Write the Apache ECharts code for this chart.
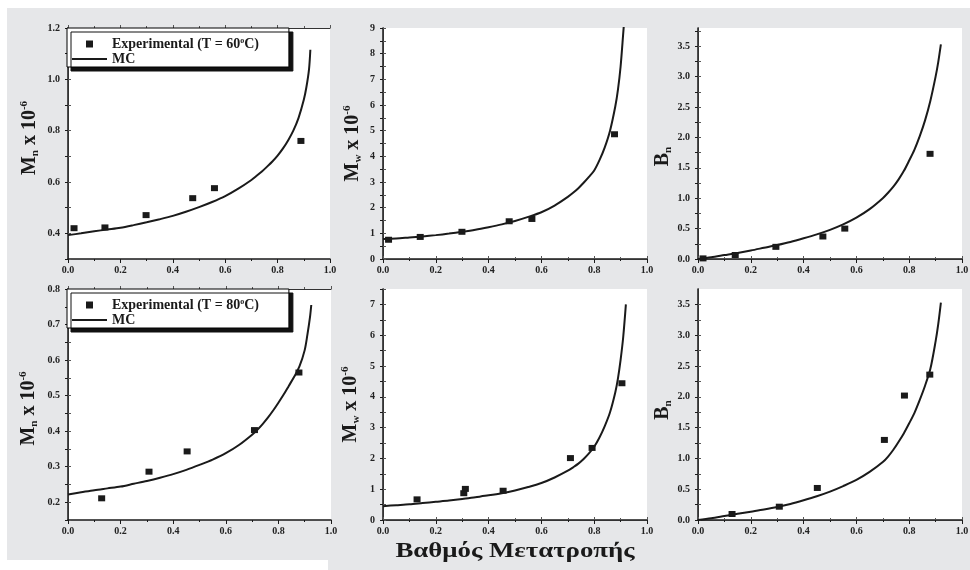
<!DOCTYPE html>
<html>
<head>
<meta charset="utf-8">
<script src="https://cdn.jsdelivr.net/npm/echarts@6/dist/echarts.min.js"></script>
<style>
  html, body { margin: 0; padding: 0; background: #fff; }
  #chart { width: 970px; height: 570px; }
</style>
</head>
<body>
<div id="chart"></div>
<script>
// ---------- data ----------
// Experimental points, T = 60 °C
const exp60MnX = [0.023, 0.141, 0.298, 0.476, 0.559, 0.889];
const exp60Mn  = [0.420, 0.423, 0.471, 0.537, 0.576, 0.760];
const exp60MwX = [0.021, 0.141, 0.299, 0.478, 0.564, 0.877];
const exp60Mw  = [0.75, 0.86, 1.06, 1.47, 1.56, 4.86];
const exp60BnX = [0.019, 0.141, 0.295, 0.473, 0.556, 0.879];
const exp60Bn  = [0.01, 0.066, 0.20, 0.37, 0.50, 1.73];

// Experimental points, T = 80 °C
const exp80MnX = [0.128, 0.308, 0.453, 0.709, 0.878];
const exp80Mn  = [0.211, 0.286, 0.343, 0.403, 0.565];
const exp80MwX = [0.129, 0.306, 0.312, 0.455, 0.710, 0.792, 0.905];
const exp80Mw  = [0.67, 0.87, 1.01, 0.95, 2.01, 2.34, 4.44];
const exp80BnX = [0.129, 0.308, 0.452, 0.706, 0.782, 0.878];
const exp80Bn  = [0.097, 0.216, 0.52, 1.30, 2.02, 2.36];

// Monte Carlo curves (conversion grid shared by most curves)
const mcX = [0, 0.05, 0.1, 0.15, 0.2, 0.25, 0.3, 0.35, 0.4, 0.45, 0.5, 0.55, 0.6, 0.65, 0.7,
             0.72, 0.74, 0.76, 0.78, 0.8, 0.82, 0.84, 0.86, 0.88, 0.9, 0.91, 0.92];
const mc60MnX = mcX.concat([0.925]);
const mc60Mn  = [0.393, 0.400, 0.408, 0.415, 0.422, 0.432, 0.443, 0.455, 0.468, 0.484, 0.502, 0.522, 0.545, 0.574, 0.608,
                 0.624, 0.641, 0.660, 0.680, 0.703, 0.730, 0.762, 0.800, 0.850, 0.920, 0.970, 1.040, 1.115];
const mc60MwX = [0, 0.05, 0.1, 0.15, 0.2, 0.25, 0.3, 0.35, 0.4, 0.45, 0.5, 0.55, 0.6, 0.65, 0.7,
                 0.72, 0.74, 0.76, 0.78, 0.8, 0.82, 0.84, 0.86, 0.88, 0.89, 0.9, 0.91, 0.916];
const mc60Mw  = [0.78, 0.80, 0.84, 0.88, 0.93, 0.99, 1.06, 1.14, 1.24, 1.35, 1.48, 1.64, 1.82, 2.08, 2.42,
                 2.58, 2.76, 2.97, 3.20, 3.45, 3.85, 4.35, 5.00, 5.95, 6.60, 7.50, 8.80, 9.60];
const mc60Bn  = [0.0, 0.03, 0.065, 0.10, 0.14, 0.185, 0.23, 0.28, 0.34, 0.405, 0.48, 0.57, 0.68, 0.82, 1.00,
                 1.09, 1.19, 1.31, 1.45, 1.62, 1.80, 2.02, 2.28, 2.60, 3.00, 3.24, 3.53];

const mc80MnX = mcX.concat([0.925]);
const mc80Mn  = [0.222, 0.228, 0.234, 0.239, 0.244, 0.252, 0.260, 0.269, 0.279, 0.291, 0.305, 0.320, 0.338, 0.361, 0.390,
                 0.404, 0.420, 0.438, 0.458, 0.480, 0.503, 0.528, 0.553, 0.582, 0.628, 0.670, 0.720, 0.755];
const mc80MwX = [0, 0.05, 0.1, 0.15, 0.2, 0.25, 0.3, 0.35, 0.4, 0.45, 0.5, 0.55, 0.6, 0.65, 0.7,
                 0.72, 0.74, 0.76, 0.78, 0.8, 0.82, 0.84, 0.86, 0.88, 0.89, 0.9, 0.91, 0.92];
const mc80Mw  = [0.45, 0.48, 0.51, 0.55, 0.59, 0.63, 0.68, 0.74, 0.80, 0.87, 0.96, 1.07, 1.20, 1.38, 1.60,
                 1.71, 1.83, 1.98, 2.16, 2.38, 2.68, 3.05, 3.50, 4.15, 4.60, 5.20, 5.95, 7.00];
const mc80Bn  = [0.0, 0.03, 0.065, 0.10, 0.135, 0.17, 0.21, 0.26, 0.32, 0.385, 0.46, 0.55, 0.65, 0.78, 0.94,
                 1.03, 1.14, 1.27, 1.41, 1.57, 1.74, 1.95, 2.18, 2.45, 2.90, 3.18, 3.53];

// Axis tick labels and tick marks
const xLabels   = [0, 0.2, 0.4, 0.6, 0.8, 1.0];
const mn60Labels = [0.4, 0.6, 0.8, 1.0, 1.2];
const mn60Ticks  = [0.3, 0.4, 0.5, 0.6, 0.7, 0.8, 0.9, 1.0, 1.1, 1.2];
const mw60Labels = [0, 1, 2, 3, 4, 5, 6, 7, 8, 9];
const mw60Ticks  = [0, 0.5, 1, 1.5, 2, 2.5, 3, 3.5, 4, 4.5, 5, 5.5, 6, 6.5, 7, 7.5, 8, 8.5, 9];
const bn60Labels = [0, 0.5, 1.0, 1.5, 2.0, 2.5, 3.0, 3.5];
const bn60Ticks  = [0, 0.25, 0.5, 0.75, 1.0, 1.25, 1.5, 1.75, 2.0, 2.25, 2.5, 2.75, 3.0, 3.25, 3.5, 3.75];
const mn80Labels = [0.2, 0.3, 0.4, 0.5, 0.6, 0.7, 0.8];
const mn80Ticks  = [0.15, 0.2, 0.25, 0.3, 0.35, 0.4, 0.45, 0.5, 0.55, 0.6, 0.65, 0.7, 0.75, 0.8];
const mw80Labels = [0, 1, 2, 3, 4, 5, 6, 7];
const mw80Ticks  = [0, 0.5, 1, 1.5, 2, 2.5, 3, 3.5, 4, 4.5, 5, 5.5, 6, 6.5, 7, 7.5];
const bn80Labels = [0, 0.5, 1.0, 1.5, 2.0, 2.5, 3.0, 3.5];
const bn80Ticks  = [0, 0.25, 0.5, 0.75, 1.0, 1.25, 1.5, 1.75, 2.0, 2.25, 2.5, 2.75, 3.0, 3.25, 3.5];

const seriesName60 = 'Experimental (T = 60°C)';
const seriesName80 = 'Experimental (T = 80°C)';
const mcName = 'MC';
const xTitle = 'Βαθμός Μετατροπής';

// ---------- styling ----------
const FONT = '"Liberation Serif", "Times New Roman", "DejaVu Serif", serif';
const INK = '#1a1a1a';
const PANEL_BG = '#e6e7e9';

const nameRich = {
  m: { fontFamily: FONT, fontWeight: 'bold', fontSize: 20, lineHeight: 22, color: INK },
  s: { fontFamily: FONT, fontWeight: 'bold', fontSize: 11, lineHeight: 11, verticalAlign: 'bottom', color: INK },
  p: { fontFamily: FONT, fontWeight: 'bold', fontSize: 11, lineHeight: 11, verticalAlign: 'top', color: INK }
};
const MN_NAME = '{m|M}{s|n}{m| x 10}{p|-6}';
const MW_NAME = '{m|M}{s|w}{m| x 10}{p|-6}';
const BN_NAME = '{m|B}{s|n}';

const panels = [
  { rect: [68, 28, 262, 231],  yMin: 0.3,  yMax: 1.2,  labels: mn60Labels, ticks: mn60Ticks, digits: 1, name: MN_NAME, gap: 27, pad: [0, 0, 0, 11],
    expX: exp60MnX, expY: exp60Mn, mcX: mc60MnX, mcY: mc60Mn, expName: seriesName60 },
  { rect: [383, 28, 264, 231], yMin: 0,    yMax: 9,    labels: mw60Labels, ticks: mw60Ticks, digits: 0, name: MW_NAME, gap: 19, pad: [0, 0, 0, 0],
    expX: exp60MwX, expY: exp60Mw, mcX: mc60MwX, mcY: mc60Mw, expName: seriesName60 },
  { rect: [698, 28, 264, 231], yMin: 0,    yMax: 3.8,  labels: bn60Labels, ticks: bn60Ticks, digits: 1, name: BN_NAME, gap: 23, pad: [0, 26, 0, 0],
    expX: exp60BnX, expY: exp60Bn, mcX: mcX, mcY: mc60Bn, expName: seriesName60 },
  { rect: [68, 289, 263, 231], yMin: 0.15, yMax: 0.8,  labels: mn80Labels, ticks: mn80Ticks, digits: 1, name: MN_NAME, gap: 28, pad: [0, 8, 0, 0],
    expX: exp80MnX, expY: exp80Mn, mcX: mc80MnX, mcY: mc80Mn, expName: seriesName80 },
  { rect: [383, 289, 264, 231], yMin: 0,   yMax: 7.5,  labels: mw80Labels, ticks: mw80Ticks, digits: 0, name: MW_NAME, gap: 21, pad: [0, 0, 0, 0],
    expX: exp80MwX, expY: exp80Mw, mcX: mc80MwX, mcY: mc80Mw, expName: seriesName80 },
  { rect: [698, 289, 264, 231], yMin: 0,   yMax: 3.75, labels: bn80Labels, ticks: bn80Ticks, digits: 1, name: BN_NAME, gap: 24, pad: [0, 11, 0, 0],
    expX: exp80BnX, expY: exp80Bn, mcX: mcX, mcY: mc80Bn, expName: seriesName80 }
];

const labelStyle = { fontFamily: FONT, fontWeight: 'bold', fontSize: 10, color: '#222' };
const zip = (xs, ys) => xs.map((x, i) => [x, ys[i]]);

const grid = [], xAxis = [], yAxis = [], series = [];
panels.forEach((p, i) => {
  const [l, t, w, h] = p.rect;
  grid.push({ left: l, top: t, width: w, height: h, show: true, backgroundColor: '#fff', borderWidth: 0, outerBoundsMode: 'none' });
  // bottom axis with labels, top axis as a mirrored frame edge
  xAxis.push({
    type: 'value', gridIndex: i, position: 'bottom', min: 0, max: 1, interval: 0.2,
    axisLine: { lineStyle: { color: INK, width: 1.5 } },
    axisTick: { length: 4, lineStyle: { color: INK, width: 1 } },
    minorTick: { show: true, splitNumber: 2, length: 2, lineStyle: { color: INK, width: 1 } },
    axisLabel: Object.assign({ margin: 6, formatter: v => v.toFixed(1), customValues: xLabels }, labelStyle),
    splitLine: { show: false }
  });
  xAxis.push({
    type: 'value', gridIndex: i, position: 'top', min: 0, max: 1, interval: 0.2,
    axisLine: { lineStyle: { color: '#333', width: 1 } },
    axisTick: { length: 3, lineStyle: { color: '#555', width: 1 } },
    minorTick: { show: true, splitNumber: 2, length: 2, lineStyle: { color: '#555', width: 1 } },
    axisLabel: { show: false }, splitLine: { show: false }
  });
  yAxis.push({
    type: 'value', gridIndex: i, position: 'left', min: p.yMin, max: p.yMax,
    name: p.name, nameLocation: 'middle', nameGap: p.gap, nameRotate: 90,
    nameTextStyle: { fontFamily: FONT, fontWeight: 'bold', fontSize: 20, color: INK, rich: nameRich, padding: p.pad },
    axisLine: { lineStyle: { color: INK, width: 1.5 } },
    axisTick: { length: 3, customValues: p.ticks, lineStyle: { color: INK, width: 1 } },
    axisLabel: Object.assign({ margin: 8, customValues: p.labels, formatter: v => v.toFixed(p.digits) }, labelStyle),
    splitLine: { show: false }
  });
  yAxis.push({
    type: 'value', gridIndex: i, position: 'right', min: p.yMin, max: p.yMax,
    axisLine: { lineStyle: { color: '#333', width: 1 } },
    axisTick: { length: 3, customValues: p.ticks, lineStyle: { color: '#555', width: 1 } },
    axisLabel: { show: false }, splitLine: { show: false }
  });
  series.push({
    name: mcName, type: 'line', xAxisIndex: 2 * i, yAxisIndex: 2 * i,
    data: zip(p.mcX, p.mcY), symbol: 'none', smooth: 0.3, clip: true,
    lineStyle: { color: INK, width: 2 }, itemStyle: { color: INK }, z: 3
  });
  series.push({
    name: p.expName, type: 'scatter', xAxisIndex: 2 * i, yAxisIndex: 2 * i,
    data: zip(p.expX, p.expY), symbol: 'rect', symbolSize: [7, 6],
    itemStyle: { color: INK, opacity: 1 }, z: 4
  });
});

const legendText = {
  fontFamily: FONT, fontWeight: 'bold', fontSize: 14, lineHeight: 14, color: INK,
  rich: { o: { fontFamily: FONT, fontWeight: 'bold', fontSize: 8, lineHeight: 14, verticalAlign: 'top', color: INK } }
};
// square marker and a short solid stroke as legend keys
const SQUARE_ICON = 'path://M0,0h6v6h-6z';
const LINE_ICON = 'path://M0,0h35v2h-35z';
function makeLegend(top, expName) {
  return {
    orient: 'vertical', left: 67, top: top, selectedMode: false,
    itemWidth: 35, itemHeight: 7, itemGap: 1, symbolKeepAspect: true,
    padding: [9, 30, 1, 5],
    backgroundColor: '#fff', borderColor: '#000', borderWidth: 1,
    shadowColor: '#111', shadowBlur: 0, shadowOffsetX: 4, shadowOffsetY: 4,
    data: [
      { name: expName, icon: SQUARE_ICON, itemStyle: { color: INK } },
      { name: mcName, icon: LINE_ICON, itemStyle: { color: INK } }
    ],
    formatter: n => n.replace('°', '{o|o}'),
    textStyle: legendText
  };
}

const option = {
  animation: false,
  backgroundColor: PANEL_BG,
  grid, xAxis, yAxis, series,
  legend: [makeLegend(28, seriesName60), makeLegend(289, seriesName80)],
  graphic: [
    { type: 'rect', shape: { x: 0, y: 0, width: 970, height: 8 }, style: { fill: '#fff' }, silent: true },
    { type: 'rect', shape: { x: 0, y: 0, width: 7, height: 570 }, style: { fill: '#fff' }, silent: true },
    { type: 'rect', shape: { x: 0, y: 560, width: 328, height: 10 }, style: { fill: '#fff' }, silent: true },
    { type: 'text', x: 515, y: 551, scaleX: 1.22, silent: true,
      style: { text: xTitle, fontFamily: FONT, fontWeight: 'bold', fontSize: 22, fill: INK, align: 'center', verticalAlign: 'middle' } }
  ]
};

const chart = echarts.init(document.getElementById('chart'), null, { renderer: 'canvas' });
chart.setOption(option);
</script>
</body>
</html>
